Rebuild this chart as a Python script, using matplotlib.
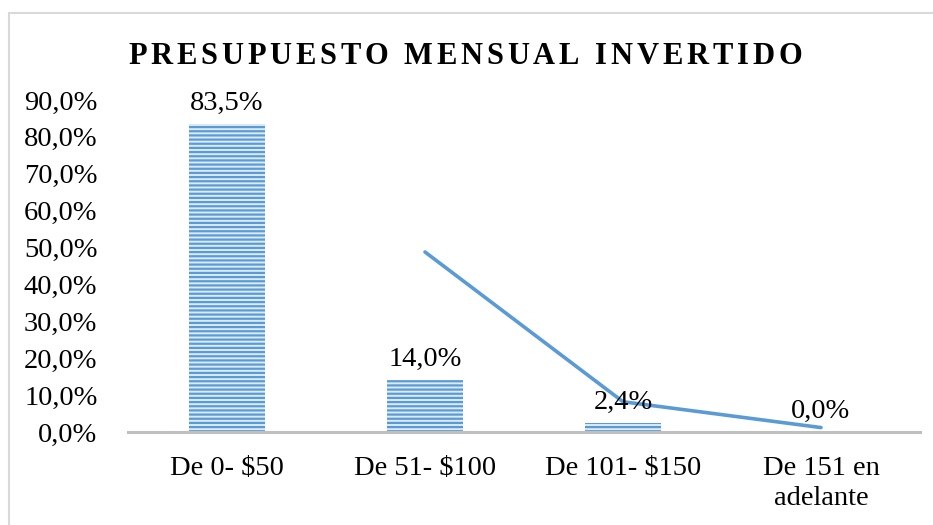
import matplotlib
matplotlib.use("Agg")
import matplotlib.pyplot as plt
from matplotlib.patches import Rectangle

categories = ["De 0- $50", "De 51- $100", "De 101- $150", "De 151 en\nadelante"]
values = [83.5, 14.0, 2.4, 0.0]
labels = ["83,5%", "14,0%", "2,4%", "0,0%"]
trend = [None, 48.8, 8.2, 1.2]
yticks = [0, 10, 20, 30, 40, 50, 60, 70, 80, 90]
title = "PRESUPUESTO MENSUAL INVERTIDO"

plt.rcParams['font.family'] = ['Liberation Serif', 'DejaVu Serif']
plt.rcParams['hatch.linewidth'] = 1.6

fig = plt.figure(figsize=(9.33, 5.25), dpi=100)
ax = fig.add_axes([128/933, 1-432/525, 792/933, (432-100)/525])

blue = '#5B9BD5'
x = list(range(len(categories)))
ax.bar(x, values, width=0.38, color='#DDEBF7', edgecolor=blue, linewidth=0, hatch='----')
tx = [i for i, v in zip(x, trend) if v is not None]
ty = [v for v in trend if v is not None]
ax.plot(tx, ty, color=blue, linewidth=2.6, solid_capstyle='round')

FS = 20.5
for i, (v, l) in enumerate(zip(values, labels)):
    ax.text(i, v + 2.2, l, ha='center', va='bottom', fontsize=FS)

ax.set_xlim(-0.5, 3.5)
ax.set_ylim(0, 90)
ax.set_yticks(yticks)
ax.set_yticklabels([f"{t},0%" for t in yticks], fontsize=FS)
ax.set_xticks(x)
ax.set_xticklabels(categories, fontsize=FS, linespacing=1.3)
ax.tick_params(axis='x', length=0, pad=17)
ax.tick_params(axis='y', length=0, pad=22)
for s in ['top', 'right', 'left']:
    ax.spines[s].set_visible(False)
ax.spines['bottom'].set_color('#BFBFBF')
ax.spines['bottom'].set_linewidth(2.2)

# letter-spaced bold title
TFS = 22
fig.canvas.draw()
renderer = fig.canvas.get_renderer()
target_left, target_right = 128, 802
ymid = 1 - 53/525
chars = []
widths = []
tt = fig.text(0, 0, 'a a', fontsize=TFS, fontweight='bold')
ta = fig.text(0, 0, 'aa', fontsize=TFS, fontweight='bold')
space_w = tt.get_window_extent(renderer).width - ta.get_window_extent(renderer).width
tt.remove(); ta.remove()
for ch in title:
    t = fig.text(0, ymid, ch, ha='left', va='center_baseline', fontsize=TFS, fontweight='bold')
    w = space_w if ch == ' ' else t.get_window_extent(renderer).width
    chars.append(t)
    widths.append(w)
total = sum(widths)
gap = (target_right - target_left - total) / (len(title) - 1)
xpos = target_left
for t, w in zip(chars, widths):
    t.set_x(xpos / 933)
    xpos += w + gap

fig.patches.append(Rectangle((8.5/933, -0.1), 1.2, 1-12.5/525+0.1, transform=fig.transFigure,
                             fill=False, edgecolor='#D9D9D9', linewidth=1.5))

fig.savefig("out.png", dpi=100)
